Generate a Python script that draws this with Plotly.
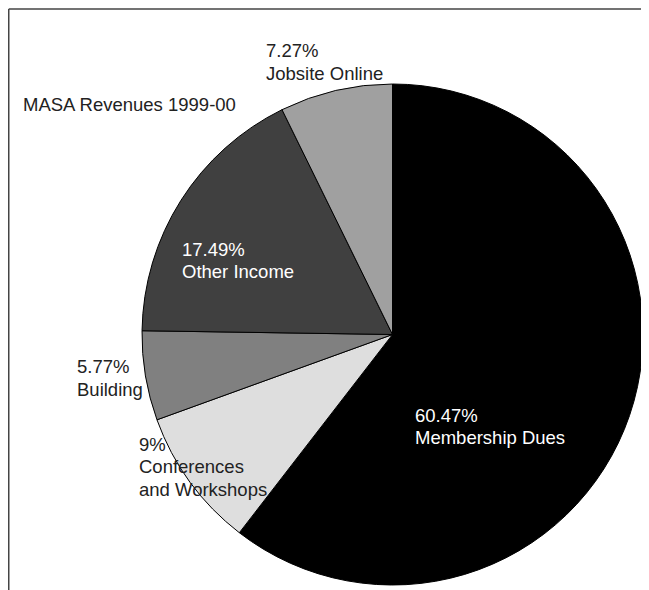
import plotly.graph_objects as go

W, H = 649, 590
OFF = 8  # browser body margin offset

categories = ["Membership Dues", "Conferences and Workshops", "Building", "Other Income", "Jobsite Online"]
values = [60.47, 9, 5.77, 17.49, 7.27]
pct_labels = ["60.47%", "9%", "5.77%", "17.49%", "7.27%"]
label_lines = [["Membership Dues"], ["Conferences", "and Workshops"], ["Building"], ["Other Income"], ["Jobsite Online"]]
colors = ["#000000", "#dedede", "#808080", "#404040", "#a0a0a0"]
text_colors = ["#ffffff", "#222222", "#222222", "#ffffff", "#222222"]
# left x and first-line baseline y (page pixels) for each label block
label_pos = [(414, 421.7), (138.3, 450.7), (76, 373.3), (180.7, 255.7), (265, 57.3)]
title = "MASA Revenues 1999-00"
title_pos = (21.7, 110.7)

FONT = "Liberation Sans, Arial, Helvetica, sans-serif"
FS = 18.5
LINE = 22.5

cx, cy, r = 392.5 - OFF, 334.5 - OFF, 250.5


def px(x):
    return (x - OFF) / W


def py_baseline(b):
    # centre of the text box sits about 0.35 em above the baseline
    return 1 - (b - OFF - 0.35 * FS) / H


fig = go.Figure(go.Pie(
    labels=categories,
    values=values,
    sort=False,
    direction="clockwise",
    rotation=0,
    marker=dict(colors=colors, line=dict(color="#000000", width=1)),
    textinfo="none",
    hoverinfo="label+percent",
    showlegend=False,
    domain=dict(x=[(cx - r) / W, (cx + r) / W], y=[1 - (cy + r) / H, 1 - (cy - r) / H]),
))

annotations = []
for p, lines, c, (x, b) in zip(pct_labels, label_lines, text_colors, label_pos):
    for i, t in enumerate([p] + lines):
        annotations.append(dict(
            text=t, x=px(x), y=py_baseline(b + i * LINE), xref="paper", yref="paper",
            xanchor="left", yanchor="middle", align="left", showarrow=False, borderpad=0,
            font=dict(family=FONT, size=FS, color=c),
        ))
annotations.append(dict(
    text=title, x=px(title_pos[0]), y=py_baseline(title_pos[1]), xref="paper", yref="paper",
    xanchor="left", yanchor="middle", align="left", showarrow=False, borderpad=0,
    font=dict(family=FONT, size=FS, color="#222222"),
))

shapes = [
    dict(type="line", xref="paper", yref="paper", x0=0.75 / W, x1=1.0, y0=1 - 1.0 / H, y1=1 - 1.0 / H,
         line=dict(color="#444444", width=1.5)),
    dict(type="line", xref="paper", yref="paper", x0=0.75 / W, x1=0.75 / W, y0=1 - 1.0 / H, y1=0,
         line=dict(color="#444444", width=1.5)),
]

fig.update_layout(
    width=W, height=H,
    margin=dict(l=0, r=0, t=0, b=0),
    paper_bgcolor="white", plot_bgcolor="white",
    annotations=annotations, shapes=shapes,
)

fig.write_html("out.html")
